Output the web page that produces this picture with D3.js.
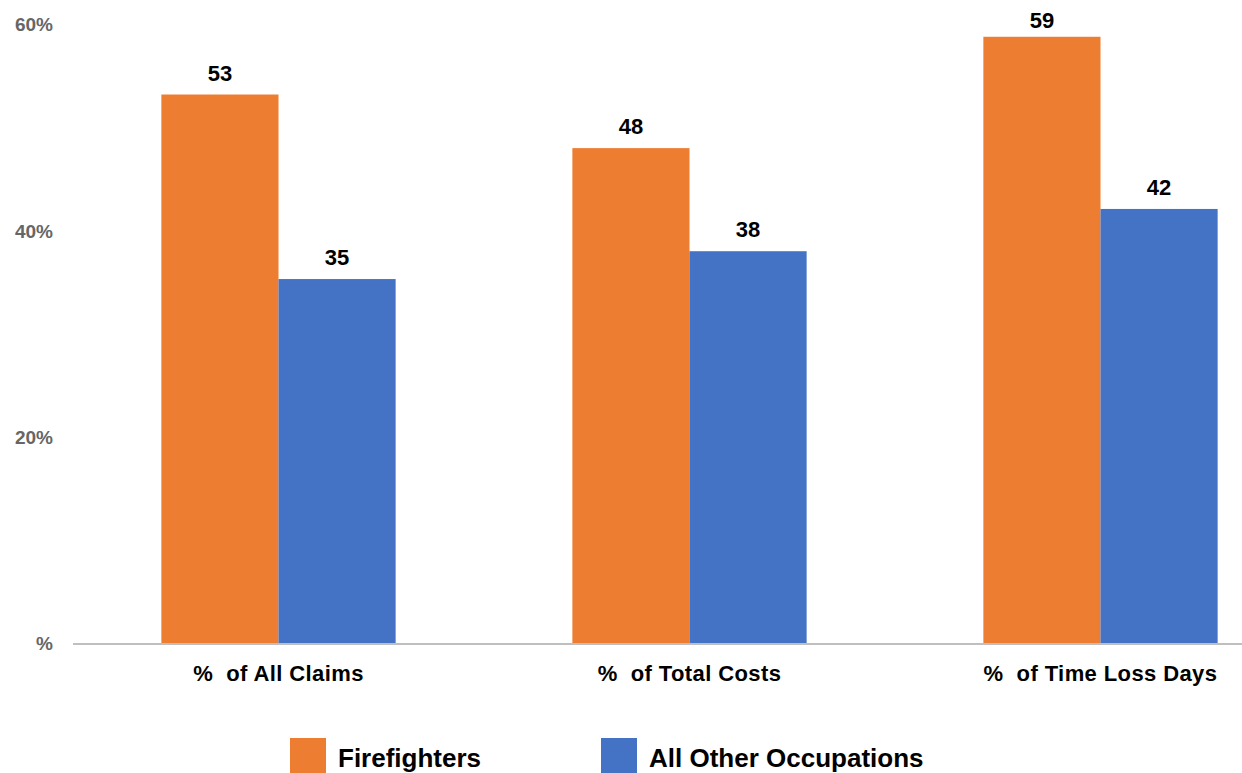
<!DOCTYPE html>
<html>
<head>
<meta charset="utf-8">
<script src="https://cdn.jsdelivr.net/npm/d3@7"></script>
<style>
  html, body { margin: 0; padding: 0; background: #fff; }
  svg { display: block; font-family: "Liberation Sans", Arial, sans-serif; }
</style>
</head>
<body>
<div id="chart"></div>
<script>
const categories = ["% of All Claims", "% of Total Costs", "% of Time Loss Days"];
const seriesNames = ["Firefighters", "All Other Occupations"];
// bar heights; labels show them rounded
const firefighters = [53.2, 48.0, 58.8];
const otherOccupations = [35.3, 38.0, 42.1];
const tickValues = [0, 20, 40, 60];
const tickLabels = ["%", "20%", "40%", "60%"];

const width = 1242;
const height = 773;

const colorTable = ["#ED7D31", "#4472C4"];

const color = d3.scaleOrdinal()
  .domain(seriesNames)
  .range(colorTable);

const formatValue = d3.format(".0f");

const svg = d3.select("#chart")
  .append("svg")
  .attr("width", width)
  .attr("height", height);

// plot area runs a bit past the right edge, like the source crop
const x0 = d3.scaleBand()
  .domain(categories)
  .range([73, 1306])
  .paddingInner(0.43)
  .paddingOuter(0.215);

const x1 = d3.scaleBand()
  .domain(seriesNames)
  .range([0, x0.bandwidth()]);

const y = d3.scaleLinear()
  .domain([0, 60])
  .range([643, 24.4]);

const rows = categories.map((c, i) => ({
  category: c,
  values: [
    {name: seriesNames[0], value: firefighters[i]},
    {name: seriesNames[1], value: otherOccupations[i]}
  ]
}));

// y tick labels
svg.append("g")
  .selectAll("text")
  .data(tickValues)
  .enter()
  .append("text")
  .text((d, i) => tickLabels[i])
  .attr("x", 53)
  .attr("y", (d) => y(d) + 7)
  .attr("text-anchor", "end")
  .attr("font-size", 19)
  .attr("font-weight", "bold")
  .attr("fill", "#666");

const group = svg.selectAll("g.group")
  .data(rows)
  .enter()
  .append("g")
  .attr("class", "group")
  .attr("transform", (d) => `translate(${x0(d.category)}, 0)`);

group.selectAll("rect")
  .data((d) => d.values)
  .enter()
  .append("rect")
  .attr("x", (d) => x1(d.name))
  .attr("y", (d) => y(d.value))
  .attr("width", x1.bandwidth())
  .attr("height", (d) => y(0) - y(d.value))
  .attr("fill", (d) => color(d.name));

// value labels, kept from running off the top
group.selectAll("text")
  .data((d) => d.values)
  .enter()
  .append("text")
  .text((d) => formatValue(d.value))
  .attr("x", (d) => x1(d.name) + x1.bandwidth() / 2)
  .attr("y", (d) => Math.max(y(d.value) - 14, 28))
  .attr("text-anchor", "middle")
  .attr("font-size", 22)
  .attr("font-weight", "bold")
  .attr("fill", "#000");

// baseline
svg.append("line")
  .attr("x1", 73)
  .attr("x2", width)
  .attr("y1", y(0) + 1)
  .attr("y2", y(0) + 1)
  .attr("stroke", "#bfbfbf")
  .attr("stroke-width", 2);

// category labels
svg.append("g")
  .selectAll("text")
  .data(categories)
  .enter()
  .append("text")
  .text((d) => d.replace("% ", "%\u00a0 "))
  .attr("x", (d) => x0(d) + x0.bandwidth() / 2)
  .attr("y", 681)
  .attr("text-anchor", "middle")
  .attr("font-size", 22)
  .attr("font-weight", "bold")
  .attr("letter-spacing", 0.4)
  .attr("fill", "#000");

// legend
const legendX = [290, 601];

const legend = svg.append("g");

legend.selectAll("rect")
  .data(seriesNames)
  .enter()
  .append("rect")
  .attr("x", (d, i) => legendX[i])
  .attr("y", 738)
  .attr("width", 36)
  .attr("height", 40)
  .attr("fill", (d) => color(d));

legend.selectAll("text")
  .data(seriesNames)
  .enter()
  .append("text")
  .text((d) => d)
  .attr("x", (d, i) => legendX[i] + 48)
  .attr("y", 767)
  .attr("font-size", 26)
  .attr("font-weight", "bold")
  .attr("fill", "#000");
</script>
</body>
</html>
